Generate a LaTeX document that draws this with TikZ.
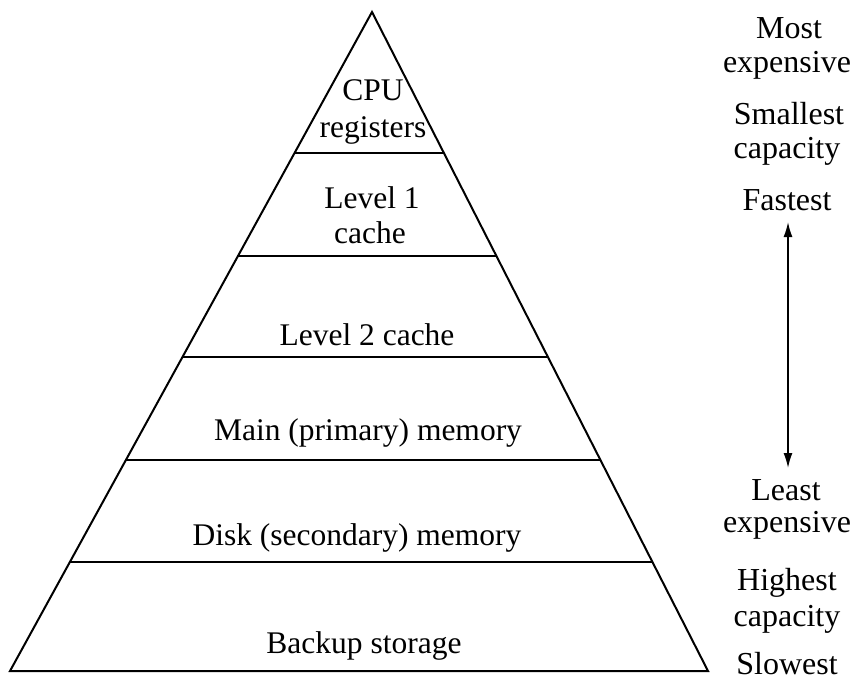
\documentclass[tikz,border=0pt]{standalone}
\usepackage{fontspec}
\setmainfont{Liberation Serif}
\usetikzlibrary{calc,arrows.meta}

\begin{document}
\begin{tikzpicture}[x=1pt,y=-1pt,
  edge/.style={line width=2pt, line join=miter},
  tier/.style={anchor=base, inner sep=0pt, font=\fontsize{31.5}{36}\selectfont},
  side/.style={anchor=base, inner sep=0pt, font=\fontsize{32}{36}\selectfont},
  scale arrow/.style={line width=1.6pt, {Latex[length=15pt,width=9pt]}-{Latex[length=15pt,width=9pt]}}]

  \useasboundingbox (0,0) rectangle (856,685);

  % pyramid outline
  \coordinate (apex) at (372,12);
  \coordinate (bl) at (10,671);
  \coordinate (br) at (708,671);
  \draw[edge] (apex) -- (bl) -- (br) -- cycle;

  % tier boundaries
  \foreach \t/\n in {0.2140/a,0.3703/b,0.5235/c,0.6798/d,0.8346/e}{
    \coordinate (l\n) at ($(apex)!\t!(bl)$);
    \coordinate (r\n) at ($(apex)!\t!(br)$);
    \draw[edge] (l\n) -- (r\n);
  }

  % tier labels
  \node[tier] (cpu)  at (373,100) {CPU};
  \node[tier] (regs) at (373,137) {registers};
  \node[tier] (l1a)  at (372,208) {Level 1};
  \node[tier] (l1b)  at (370,243) {cache};
  \node[tier] (l2)   at (367,345) {Level 2 cache};
  \node[tier] (main) at (368,440) {Main (primary) memory};
  \node[tier] (disk) at (357,545) {Disk (secondary) memory};
  \node[tier] (back) at (364,653) {Backup storage};

  % properties at the top of the hierarchy
  \node[side] (most)  at (789,38)  {Most};
  \node[side] (exp1)  at (787,72)  {expensive};
  \node[side] (small) at (789,124) {Smallest};
  \node[side] (cap1)  at (787,158) {capacity};
  \node[side] (fast)  at (787,210) {Fastest};

  % properties at the bottom of the hierarchy
  \node[side] (least) at (786,500) {Least};
  \node[side] (exp2)  at (787,532) {expensive};
  \node[side] (high)  at (787,590) {Highest};
  \node[side] (cap2)  at (787,626) {capacity};
  \node[side] (slow)  at (787,674) {Slowest};

  % double-headed scale arrow
  \coordinate (up)   at (788,222);
  \coordinate (down) at (788,468);
  \draw[scale arrow] (down) -- (up);
\end{tikzpicture}
\end{document}
